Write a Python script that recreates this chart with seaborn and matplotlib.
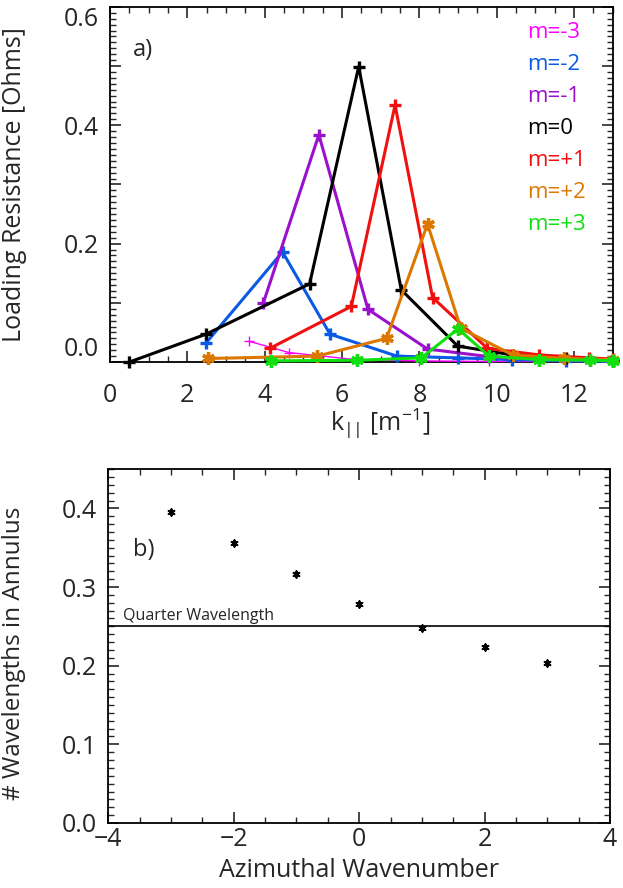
import numpy as np
import pandas as pd
import seaborn as sns
import matplotlib.pyplot as plt
from matplotlib.ticker import MultipleLocator, FuncFormatter

# Panel a) loading resistance vs k_parallel, one series per azimuthal mode
k_m3 = [3.60, 4.63, 6.37, 8.00, 9.80, 11.10, 12.40]
r_m3 = [0.035, 0.016, 0.004, 0.002, 0.001, 0.001, 0.001]
k_m2 = [2.48, 4.46, 5.69, 7.42, 8.99, 10.40, 11.80, 13.00]
r_m2 = [0.032, 0.186, 0.047, 0.010, 0.007, 0.004, 0.002, 0.001]
k_m1 = [3.96, 5.40, 6.67, 8.21, 9.81, 11.10, 12.40, 13.00]
r_m1 = [0.099, 0.384, 0.089, 0.022, 0.009, 0.005, 0.003, 0.002]
k_0 = [0.50, 2.48, 5.16, 6.43, 7.53, 8.99, 10.40, 11.80, 13.00]
r_0 = [0.000, 0.047, 0.132, 0.499, 0.122, 0.027, 0.012, 0.007, 0.004]
k_p1 = [4.13, 6.24, 7.37, 8.34, 9.76, 11.10, 12.39, 13.00]
r_p1 = [0.023, 0.094, 0.434, 0.109, 0.023, 0.012, 0.007, 0.005]
k_p2 = [2.54, 5.36, 7.15, 8.21, 9.07, 10.41, 11.74, 13.00]
r_p2 = [0.006, 0.010, 0.040, 0.233, 0.057, 0.012, 0.006, 0.004]
k_p3 = [4.17, 6.39, 8.05, 9.00, 9.80, 11.10, 12.41, 13.00]
r_p3 = [0.002, 0.003, 0.007, 0.056, 0.010, 0.004, 0.003, 0.002]

labels = ['m=-3', 'm=-2', 'm=-1', 'm=0', 'm=+1', 'm=+2', 'm=+3']
colors = ['#ff00ff', '#0a5ae6', '#9a10cc', '#000000', '#f01010', '#dc7800', '#10e010']

# Panel b) wavelengths in annulus vs azimuthal wavenumber
m_vals = [-3, -2, -1, 0, 1, 2, 3]
n_wave = [0.396, 0.356, 0.316, 0.279, 0.248, 0.224, 0.203]
quarter = 0.25

sns.set_style("ticks")
plt.rcParams['font.family'] = ['Open Sans', 'DejaVu Sans']
plt.rcParams['mathtext.default'] = 'regular'
plt.rcParams['xtick.direction'] = 'in'
plt.rcParams['ytick.direction'] = 'in'
plt.rcParams['xtick.top'] = True
plt.rcParams['ytick.right'] = True

fig = plt.figure(figsize=(6.23, 8.88), dpi=100)
ax1 = fig.add_axes([0.1766, 0.5923, 0.807, 0.40])
ax2 = fig.add_axes([0.174, 0.0732, 0.805, 0.3986])

series = [(k_m3, r_m3), (k_m2, r_m2), (k_m1, r_m1), (k_0, r_0),
          (k_p1, r_p1), (k_p2, r_p2), (k_p3, r_p3)]
star = (6, 2, 0)
for i, (k, r) in enumerate(series):
    df = pd.DataFrame({'k': k, 'r': r})
    thin = i == 0
    mk = star if i >= 5 else '+'
    sns.lineplot(data=df, x='k', y='r', ax=ax1, color=colors[i], sort=False,
                 lw=1.0 if thin else 2.2, marker=mk,
                 markersize=7 if thin else 9, mew=1.0 if thin else 2.4,
                 mec=colors[i], clip_on=False, zorder=3)

ax1.set_xlim(0, 13)
ax1.set_ylim(0, 0.6)
ax1.xaxis.set_major_locator(MultipleLocator(2))
ax1.xaxis.set_minor_locator(MultipleLocator(0.5))
ax1.set_yticks([0, 0.1, 0.2, 0.3, 0.4, 0.5, 0.6],
               ['0.0', '', '0.2', '', '0.4', '', '0.6'])
ax1.yaxis.set_minor_locator(MultipleLocator(0.01))
ax1.tick_params(axis='both', which='major', length=8, width=1.2, labelsize=18)
ax1.tick_params(axis='both', which='minor', length=4, width=1.0)
ax1.tick_params(axis='x', which='major', pad=15)
ax1.tick_params(axis='y', which='major', pad=8)
ylabs = ax1.get_yticklabels()
ylabs[0].set_va('bottom')
ylabs[-1].set_va('top')
ax1.set_xlabel(r'k$_{||}$ [m$^{-1}$]', fontsize=18)
ax1.xaxis.set_label_coords(0.537, -0.125)
ax1.set_ylabel('Loading Resistance [Ohms]', fontsize=18)
ax1.yaxis.set_label_coords(-0.165, 0.5)
ax1.text(0.046, 0.879, 'a)', transform=ax1.transAxes, fontsize=17, va='center')
for i, lab in enumerate(labels):
    ax1.text(0.829, 0.927 - 0.09 * i, lab, color=colors[i], fontsize=16,
             transform=ax1.transAxes, va='center')

sns.scatterplot(x=m_vals, y=n_wave, ax=ax2, color='black', marker=star, s=22,
                linewidth=1.4, edgecolor='black', zorder=3)
ax2.axhline(quarter, color='black', lw=1.2)
ax2.text(-3.77, quarter + 0.003, 'Quarter Wavelength', fontsize=11.5,
         va='bottom', ha='left')
ax2.text(0.049, 0.771, 'b)', transform=ax2.transAxes, fontsize=17, va='center')
ax2.set_xlim(-4, 4)
ax2.set_ylim(0, 0.45)
ax2.xaxis.set_major_locator(MultipleLocator(2))
ax2.xaxis.set_minor_locator(MultipleLocator(0.5))
ax2.yaxis.set_major_locator(MultipleLocator(0.1))
ax2.yaxis.set_minor_locator(MultipleLocator(0.01))
ax2.xaxis.set_major_formatter(FuncFormatter(lambda v, _: f'{v:.0f}'.replace('-', '\u2212')))
ax2.tick_params(axis='both', which='major', length=8, width=1.2, labelsize=18)
ax2.tick_params(axis='both', which='minor', length=4, width=1.0)
ax2.tick_params(axis='x', which='major', pad=3)
ax2.tick_params(axis='y', which='major', pad=8)
ax2.set_xlabel('Azimuthal Wavenumber', fontsize=18)
ax2.xaxis.set_label_coords(0.5, -0.1)
ax2.set_ylabel('# Wavelengths in Annulus', fontsize=17.5)
ax2.yaxis.set_label_coords(-0.165, 0.48)

for ax in (ax1, ax2):
    for sp in ax.spines.values():
        sp.set_linewidth(1.3)
        sp.set_color('black')

fig.savefig('out.png', dpi=100)
plt.close()
